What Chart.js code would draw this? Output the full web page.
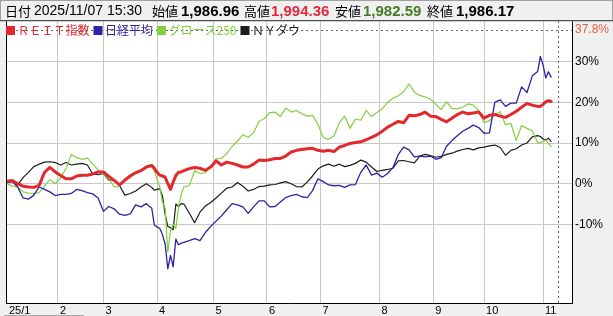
<!DOCTYPE html>
<html><head><meta charset="utf-8">
<script src="https://cdn.jsdelivr.net/npm/chart.js@4"></script>
<style>html,body{margin:0;padding:0;background:#f0f0f0;overflow:hidden}canvas{display:block}</style>
</head><body>
<canvas id="c" width="613" height="316"></canvas>
<script>
// trading-day index from 2025/1 start
const days = [0,2,4,6,8,10,12,14,16,18,20,22,24,26,28,30,32,34,36,38,40,42,44,46,48,50,52,
  54,55,56,57,58,59,60,61,62,63,64,65,66,
  68,70,72,74,76,78,80,82,84,86,88,
  90,92,94,96,98,100,102,104,106,108,110,112,114,116,118,
  120,122,124,126,128,130,132,134,136,138,140,142,144,146,148,
  150,152,154,156,158,160,162,164,166,168,170,172,174,176,178,
  180,182,184,186,188,190,192,194,196,198,
  199,200,201,202,203];
const reit = [0.6,0.8,0.0,-0.6,-0.8,-0.9,-0.4,2.8,4.0,2.9,2.0,1.2,1.2,1.9,2.1,2.1,2.4,2.9,2.9,1.8,0.8,-0.3,0.9,1.9,2.7,3.2,4.1,
  4.5,3.8,2.8,2.1,1.9,1.6,0.0,-1.4,0.4,2.0,2.8,2.9,3.2,
  3.7,4.0,3.8,3.3,4.1,5.6,4.6,5.3,5.0,4.6,4.1,
  4.1,4.8,5.8,5.7,5.9,6.2,6.2,6.8,7.8,8.2,8.4,8.6,8.7,8.2,8.0,
  8.2,7.9,9.0,9.4,9.9,10.1,10.3,10.8,11.4,12.0,12.9,13.9,14.6,15.3,15.0,
  16.8,16.7,17.0,17.6,16.6,16.5,15.8,15.2,16.1,17.0,17.6,17.2,17.4,17.6,16.1,
  16.8,17.0,16.6,16.3,17.0,17.8,18.8,19.7,19.3,19.0,
  19.0,19.5,20.1,20.4,20.2];
const nikkei = [0.3,0.5,-0.8,-3.5,-3.8,-2.8,-0.8,-1.4,-2.0,-2.9,-2.6,-2.6,-2.4,-1.4,-1.7,-2.2,-2.5,-3.5,-6.8,-5.6,-6.2,-7.5,-7.8,-7.4,-5.2,-5.7,-4.9,
  -6.0,-10.2,-10.6,-11.0,-12.5,-14.8,-20.9,-17.6,-20.4,-13.6,-15.0,-14.6,-14.4,
  -14.0,-13.5,-14.0,-12.0,-10.5,-9.2,-7.9,-6.4,-4.9,-5.2,-5.7,
  -7.3,-5.7,-4.2,-4.2,-5.7,-5.6,-4.5,-3.4,-2.9,-2.6,-3.2,-3.4,-1.7,1.2,0.5,
  -0.3,-0.5,-0.4,-0.9,-0.3,-0.2,2.8,4.6,2.1,2.6,1.6,2.5,4.0,7.2,9.0,
  8.3,6.6,6.8,6.6,6.8,6.0,6.4,9.2,10.6,11.8,12.9,13.6,14.4,13.8,12.4,
  12.5,20.0,20.6,19.0,19.8,19.8,23.8,22.4,26.5,27.6,
  31.3,29.2,26.0,27.5,26.2];
const growth = [0.0,-0.6,-0.8,-2.0,-2.3,-2.4,-2.2,-0.6,1.0,0.0,1.4,3.7,7.2,6.4,6.0,6.3,4.8,3.4,2.5,1.2,-0.8,-0.6,0.9,2.2,2.9,3.3,4.2,
  4.1,3.1,1.0,-0.8,-4.5,-6.0,-16.8,-11.5,-10.0,-11.0,-5.7,-2.6,-0.8,
  -0.5,3.2,2.5,2.7,4.2,6.1,6.2,7.4,9.2,10.5,12.0,
  11.4,12.5,15.3,16.0,17.5,17.6,16.5,18.6,17.6,18.0,17.2,16.6,16.8,14.6,11.3,
  10.9,11.7,15.0,16.6,13.6,15.9,15.6,18.0,16.5,17.5,18.4,20.0,21.0,21.6,22.6,
  24.5,22.5,21.7,21.3,20.8,19.5,18.2,20.1,18.5,18.4,18.8,19.6,19.3,18.0,15.0,
  15.5,17.0,17.7,14.5,14.8,10.6,14.3,13.6,13.0,10.0,
  10.1,10.4,10.7,9.9,9.1];
const dow = [0.4,0.6,-0.3,1.5,2.8,4.2,4.8,5.3,5.4,5.2,4.6,5.2,4.6,4.8,5.0,4.6,2.4,2.2,2.5,0.9,1.0,-0.5,-2.8,-2.4,-1.8,-0.8,0.0,
  -0.9,-1.6,-1.4,-1.2,-3.0,-7.5,-10.5,-10.8,-11.3,-5.0,-5.6,-4.9,-5.0,
  -7.2,-9.6,-7.0,-5.5,-4.6,-3.5,-2.3,-1.1,-0.8,0.3,-0.6,
  -1.8,-1.4,-0.7,-0.6,-0.3,-0.2,0.2,0.5,0.0,-0.7,-0.8,0.4,1.9,3.6,4.4,
  4.8,4.3,4.8,4.2,4.5,5.0,5.8,5.3,4.1,3.0,3.3,3.5,3.8,5.6,5.7,
  5.4,5.1,6.8,7.2,6.9,6.5,6.7,7.2,7.5,8.0,8.4,8.7,8.3,8.8,9.0,
  9.3,9.5,8.9,7.0,8.2,8.6,9.5,10.0,11.5,11.8,
  11.6,11.0,10.7,11.2,10.4];

const seriesNames = ['ＲＥＩＴ指数','日経平均','グロース250','ＮＹダウ'];
const monthTicks = [0,19,36,56,77,97,117,139,159,178,200];
const monthLabels = ['25/1','2','3','4','5','6','7','8','9','10','11'];
const yTicks = [-10,0,10,20,30];
const highMark = 37.8;
const cursorDay = 205.4;
const dateText = '2025/11/07 15:30';
const quoteLabels = ['始値','高値','安値','終値'];
const quoteValues = ['1,986.96','1,994.36','1,982.59','1,986.17'];

[reit,nikkei,growth,dow].forEach((a,k)=>{ if(a.length!==days.length) throw new Error('len mismatch '+k+': '+a.length+' vs '+days.length); });

const COLORS = ['#e3282c','#2f22a4','#82d03e','#1c1c1c'];
const WIDTHS = [3,1.3,1.2,1.2];
const LATIN = '"Liberation Sans","Noto Sans CJK JP",sans-serif';
const CJK = '"Noto Sans CJK JP","Liberation Sans",sans-serif';

const pts = arr => days.map((d,i)=>({x:d,y:arr[i]}));

const deco = {
  id:'deco',
  beforeDraw(chart){
    const {ctx, chartArea:a} = chart;
    ctx.save();
    ctx.fillStyle='#f0f0f0'; ctx.fillRect(0,0,chart.width,chart.height);
    ctx.fillStyle='#fff'; ctx.fillRect(a.left,a.top,a.right-a.left,a.bottom-a.top);
    ctx.restore();
  },
  beforeDatasetsDraw(chart){
    const {ctx, chartArea:a, scales:{x,y}} = chart;
    ctx.save();
    ctx.strokeStyle='#666'; ctx.lineWidth=1; ctx.setLineDash([2,3]);
    const yy=Math.round(y.getPixelForValue(highMark))+0.5;
    ctx.beginPath(); ctx.moveTo(a.left,yy); ctx.lineTo(a.right,yy); ctx.stroke();
    const xx=Math.round(x.getPixelForValue(cursorDay))+0.5;
    ctx.beginPath(); ctx.moveTo(xx,a.top); ctx.lineTo(xx,a.bottom); ctx.stroke();
    ctx.restore();
  },
  afterDraw(chart){
    const {ctx, chartArea:a, scales:{y}} = chart;
    ctx.save();
    // left border
    ctx.strokeStyle='#000'; ctx.lineWidth=1;
    ctx.beginPath(); ctx.moveTo(a.left+0.5,a.top); ctx.lineTo(a.left+0.5,a.bottom); ctx.stroke();
    // header box
    ctx.fillStyle='#f0f0f0'; ctx.fillRect(0,0,chart.width,a.top);
    ctx.strokeStyle='#a0a0a0';
    ctx.strokeRect(0.5,0.5,chart.width-1,a.top-0.5);
    ctx.strokeStyle='#505050';
    ctx.beginPath(); ctx.moveTo(0,a.top-0.5); ctx.lineTo(chart.width,a.top-0.5); ctx.stroke();
    // header text
    ctx.textBaseline='middle';
    const hy = a.top/2+1;
    ctx.fillStyle='#000';
    ctx.font='13px '+CJK;
    ctx.fillText('日付', 5, hy);
    ctx.font='14px '+LATIN;
    ctx.fillText(dateText, 34, hy);
    const lx=[152,244,335,427], vx=[181,271,363,456];
    const vc=['#000','#e3283c','#447c26','#000'];
    for(let i=0;i<4;i++){
      ctx.font='13px '+CJK; ctx.fillStyle='#000';
      ctx.fillText(quoteLabels[i], lx[i], hy);
      ctx.font='bold 15px '+LATIN; ctx.fillStyle=vc[i];
      ctx.fillText(quoteValues[i], vx[i], hy);
    }
    // legend
    const ly = Math.round(y.getPixelForValue(highMark))+0.5;
    ctx.font='12px '+CJK;
    let lxp = a.left;
    chart.data.datasets.forEach((ds)=>{
      ctx.fillStyle=ds.borderColor;
      ctx.fillRect(lxp, ly-4.5, 9, 9);
      ctx.fillText(ds.label, lxp+11.5, ly);
      lxp += 11.5 + ctx.measureText(ds.label).width + 4;
    });
    // scroll indicator
    ctx.strokeStyle='#a8a8a8'; ctx.lineWidth=1;
    ctx.beginPath(); ctx.moveTo(4,315.5); ctx.lineTo(84,315.5); ctx.stroke();
    ctx.restore();
  }
};

new Chart(document.getElementById('c'), {
  type:'line',
  data:{datasets:[reit,nikkei,growth,dow].map((arr,k)=>({
    label:seriesNames[k], data:pts(arr), borderColor:COLORS[k], backgroundColor:COLORS[k],
    borderWidth:WIDTHS[k], pointRadius:0, tension:0, fill:false,
    borderJoinStyle:'round', borderCapStyle:'round'
  }))},
  options:{
    responsive:false, animation:false, devicePixelRatio:1,
    layout:{padding:{left:6,top:21,right:0,bottom:0}},
    plugins:{legend:{display:false}, tooltip:{enabled:false}},
    scales:{
      x:{type:'linear', min:-0.37, max:210.8,
        afterBuildTicks:s=>{s.ticks=monthTicks.map(v=>({value:v}));},
        afterFit:s=>{s.height=13;},
        ticks:{autoSkip:false, maxRotation:0, align:'start', labelOffset:2, padding:1,
          callback:(v)=>monthLabels[monthTicks.indexOf(v)],
          color:'#000', font:{size:11, family:LATIN}},
        grid:{color:'#c8c8c8', drawTicks:false, lineWidth:1},
        border:{color:'#000', width:1}
      },
      y:{position:'right', min:-29.31, max:39.98,
        afterBuildTicks:s=>{s.ticks=[...yTicks, highMark].map(v=>({value:v}));},
        afterFit:s=>{s.width=41;},
        ticks:{padding:3, autoSkip:false,
          callback:(v)=>(v===highMark? v.toFixed(1): String(v))+'%',
          color:c=>(c.tick && c.tick.value===highMark)?'#e2603f':'#000',
          font:{size:12, family:LATIN}},
        grid:{color:c=>(c.tick && c.tick.value===highMark)?'rgba(0,0,0,0)':'#c8c8c8', drawTicks:false},
        border:{color:'#000', width:1}
      }
    }
  },
  plugins:[deco]
});
</script>
</body></html>
